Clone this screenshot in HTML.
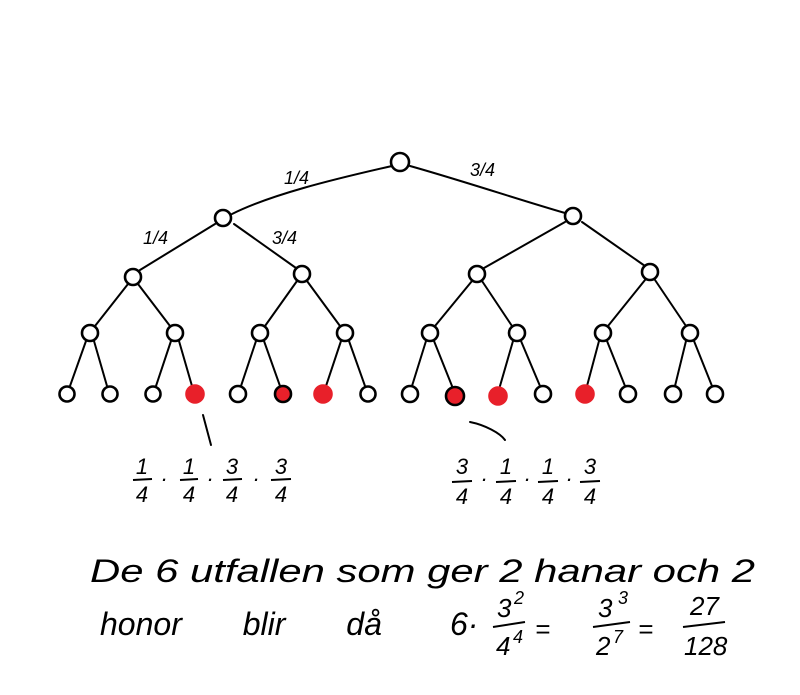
<!DOCTYPE html>
<html><head><meta charset="utf-8"><style>html,body{margin:0;padding:0;background:#fff}svg{display:block}</style></head><body>
<svg width="800" height="695" viewBox="0 0 800 695" xmlns="http://www.w3.org/2000/svg" font-family="Liberation Sans, sans-serif" font-style="italic">
<g stroke="#000" stroke-width="2" fill="none" stroke-linecap="round">
<path d="M392,166 C330,180 270,195 232,214"/>
<path d="M410,166 C460,180 520,200 565,213"/>
<path d="M215,224 L140,270"/><path d="M234,224 L296,268"/>
<path d="M565,222 L484,268"/><path d="M582,222 L645,266"/>
<path d="M128,284 L95,326"/><path d="M138,284 L170,326"/>
<path d="M297,281 L265,326"/><path d="M307,281 L340,326"/>
<path d="M472,281 L435,326"/><path d="M482,281 L512,326"/>
<path d="M645,280 L608,326"/><path d="M655,280 L686,326"/>
<path d="M86,341 L70,386"/><path d="M94,341 L107,386"/>
<path d="M171,341 L156,386"/><path d="M179,341 L192,386"/>
<path d="M256,341 L241,386"/><path d="M264,341 L280,386"/>
<path d="M341,341 L326,386"/><path d="M349,341 L365,386"/>
<path d="M426,341 L412,386"/><path d="M434,341 L452,386"/>
<path d="M513,341 L500,386"/><path d="M521,341 L540,386"/>
<path d="M599,341 L587,386"/><path d="M607,341 L625,386"/>
<path d="M686,341 L675,386"/><path d="M694,341 L712,386"/>
<path d="M203,415 L211,445"/>
<path d="M470,422 C485,425 500,433 505,440"/>
</g>
<g stroke="#000" stroke-width="2.6" fill="#fff">
<circle cx="400" cy="162" r="9"/>
<circle cx="223" cy="218" r="8"/><circle cx="573" cy="216" r="8"/>
<circle cx="133" cy="277" r="8"/><circle cx="302" cy="274" r="8"/><circle cx="477" cy="274" r="8"/><circle cx="650" cy="272" r="8"/>
<circle cx="90" cy="333" r="8"/><circle cx="175" cy="333" r="8"/><circle cx="260" cy="333" r="8"/><circle cx="345" cy="333" r="8"/>
<circle cx="430" cy="333" r="8"/><circle cx="517" cy="333" r="8"/><circle cx="603" cy="333" r="8"/><circle cx="690" cy="333" r="8"/>
<circle cx="67" cy="394" r="7.5"/><circle cx="110" cy="394" r="7.5"/><circle cx="153" cy="394" r="7.5"/>
<circle cx="195" cy="394" r="8.5" fill="#e8202a" stroke="#e8202a"/>
<circle cx="238" cy="394" r="8"/>
<circle cx="283" cy="394" r="8" fill="#e8202a"/>
<circle cx="323" cy="394" r="8.5" fill="#e8202a" stroke="#e8202a"/>
<circle cx="368" cy="394" r="7.5"/><circle cx="410" cy="394" r="8"/>
<circle cx="455" cy="396" r="9" fill="#e8202a"/>
<circle cx="498" cy="396" r="8.5" fill="#e8202a" stroke="#e8202a"/>
<circle cx="543" cy="394" r="8"/>
<circle cx="585" cy="394" r="8.5" fill="#e8202a" stroke="#e8202a"/>
<circle cx="628" cy="394" r="8"/><circle cx="673" cy="394" r="8"/><circle cx="715" cy="394" r="8"/>
</g>
<g fill="#000" font-size="18">
<text x="284" y="184">1/4</text><text x="470" y="176">3/4</text>
<text x="143" y="244">1/4</text><text x="272" y="244">3/4</text>
</g>
<g fill="#000" font-size="22" text-anchor="middle">
<text x="142" y="474">1</text><text x="142" y="502">4</text>
<text x="189" y="474">1</text><text x="189" y="502">4</text>
<text x="232" y="474">3</text><text x="232" y="502">4</text>
<text x="281" y="474">3</text><text x="281" y="502">4</text>
<text x="164" y="486">·</text><text x="210" y="486">·</text><text x="256" y="486">·</text>
<text x="462" y="474">3</text><text x="462" y="504">4</text>
<text x="506" y="474">1</text><text x="506" y="504">4</text>
<text x="548" y="474">1</text><text x="548" y="504">4</text>
<text x="590" y="474">3</text><text x="590" y="504">4</text>
<text x="484" y="486">·</text><text x="527" y="486">·</text><text x="569" y="486">·</text>
</g>
<g stroke="#000" stroke-width="2">
<path d="M133,480 L152,479"/><path d="M180,480 L198,479"/><path d="M223,480 L242,479"/><path d="M271,480 L291,479"/>
<path d="M452,482 L472,481"/><path d="M496,482 L516,481"/><path d="M538,482 L558,481"/><path d="M580,482 L600,481"/>
<path d="M493,627 L525,622"/><path d="M593,627 L630,622"/><path d="M683,627 L725,622"/>
</g>
<g fill="#000" font-size="32">
<text x="90" y="582" textLength="665" lengthAdjust="spacingAndGlyphs">De 6 utfallen som ger 2 hanar och 2</text>
<text x="100" y="635" word-spacing="52">honor blir då</text>
<text x="450" y="635">6·</text>
<text x="497" y="617" font-size="26">3</text><text x="514" y="604" font-size="18">2</text>
<text x="496" y="655" font-size="26">4</text><text x="513" y="643" font-size="18">4</text>
<text x="535" y="638" font-size="26">=</text>
<text x="598" y="617" font-size="26">3</text><text x="618" y="604" font-size="18">3</text>
<text x="596" y="655" font-size="26">2</text><text x="613" y="643" font-size="18">7</text>
<text x="638" y="638" font-size="26">=</text>
<text x="690" y="615" font-size="26">27</text>
<text x="684" y="655" font-size="26">128</text>
</g>
</svg>
</body></html>
